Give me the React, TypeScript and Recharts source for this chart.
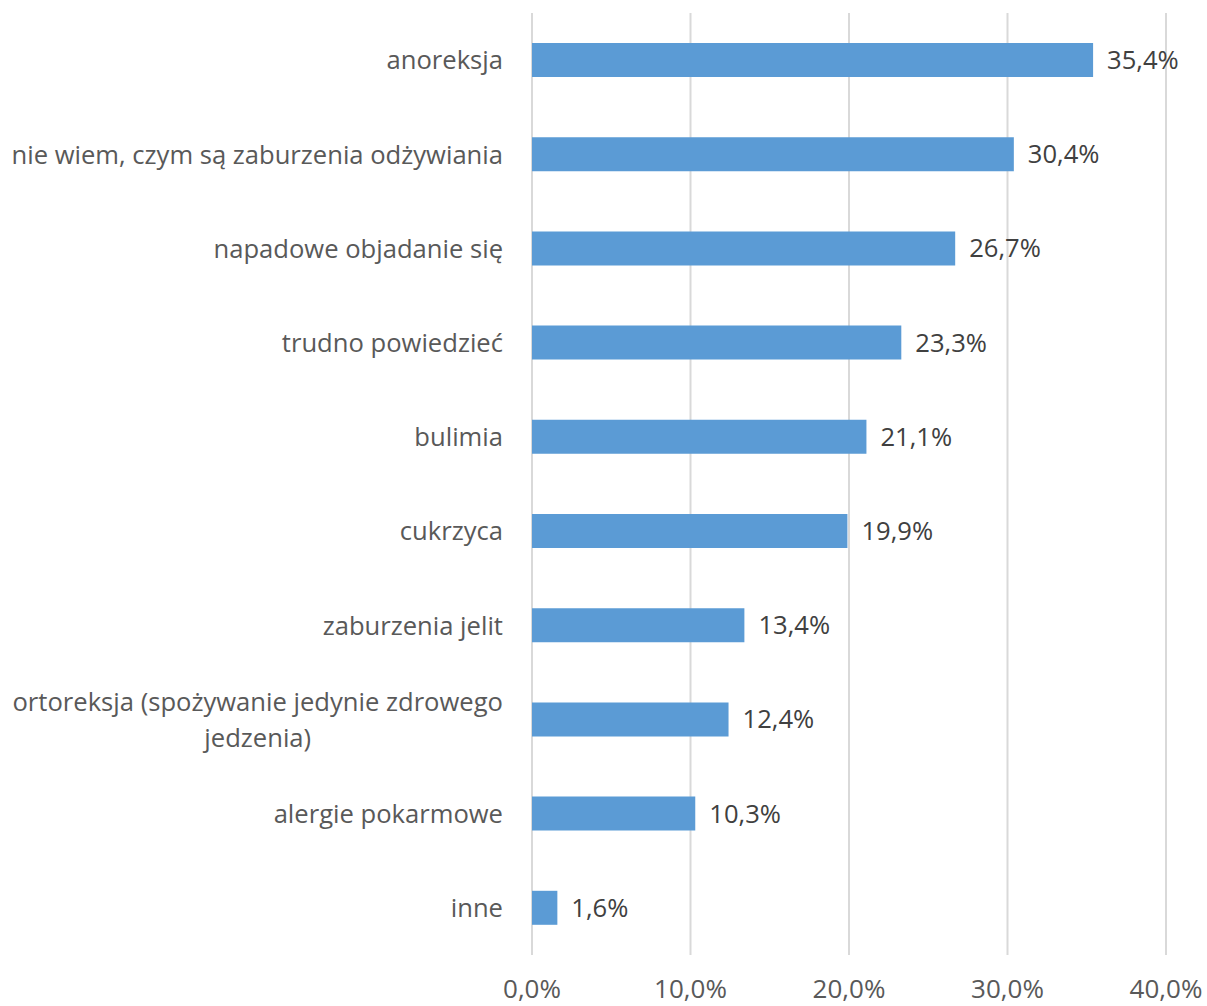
import React from 'react';
import { BarChart, Bar, XAxis, YAxis, CartesianGrid, LabelList } from 'recharts';

const categories: string[] = [
  'anoreksja',
  'nie wiem, czym są zaburzenia odżywiania',
  'napadowe objadanie się',
  'trudno powiedzieć',
  'bulimia',
  'cukrzyca',
  'zaburzenia jelit',
  'ortoreksja (spożywanie jedynie zdrowego\njedzenia)',
  'alergie pokarmowe',
  'inne',
];
const values: number[] = [35.4, 30.4, 26.7, 23.3, 21.1, 19.9, 13.4, 12.4, 10.3, 1.6];
const xTicks: number[] = [0, 10, 20, 30, 40];

const data = categories.map((name, i) => ({ name, value: values[i] }));

const FONT = "'Open Sans', sans-serif";
const FS = 25.6;
const XFS = 26;
const fmt = (v: number) => v.toFixed(1).replace('.', ',') + '%';

let ctx: CanvasRenderingContext2D | null = null;
const measure = (s: string) => {
  if (!ctx) {
    const c = document.createElement('canvas');
    ctx = c.getContext('2d');
  }
  if (!ctx) return s.length * FS * 0.5;
  ctx.font = `${FS}px 'Open Sans'`;
  return ctx.measureText(s).width;
};

const YTick = (props: any) => {
  const { x, y, payload } = props;
  const lines: string[] = String(payload.value).split('\n');
  if (lines.length === 1) {
    return (
      <text x={x} y={y} dy="0.36em" textAnchor="end" fill="#595959" fontSize={FS} fontFamily={FONT}>
        {lines[0]}
      </text>
    );
  }
  const w = measure(lines[0]);
  const cx = x - w / 2;
  const lh = 36;
  const start = y - ((lines.length - 1) * lh) / 2;
  return (
    <g>
      {lines.map((l, i) => (
        <text key={i} x={i === 0 ? x : cx} y={start + i * lh} dy="0.36em" textAnchor={i === 0 ? 'end' : 'middle'} fill="#595959" fontSize={FS} fontFamily={FONT}>
          {l}
        </text>
      ))}
    </g>
  );
};

const XTick = (props: any) => {
  const { x, y, payload } = props;
  return (
    <text x={x} y={y + 43} textAnchor="middle" fill="#595959" fontSize={XFS} fontFamily={FONT}>
      {fmt(payload.value)}
    </text>
  );
};

export default function App() {
  return (
    <div style={{ position: 'absolute', left: 0, top: 0, width: 1207, height: 1006, background: '#fff' }}>
      <BarChart
        width={1207}
        height={1006}
        data={data}
        layout="vertical"
        margin={{ top: 13, right: 41, left: 0, bottom: 0 }}
      >
        <CartesianGrid horizontal={false} stroke="#d9d9d9" strokeWidth={2} />
        <XAxis
          type="number"
          domain={[0, 40]}
          ticks={xTicks}
          axisLine={false}
          tickLine={false}
          tickSize={0}
          tickMargin={0}
          height={51}
          tick={<XTick />}
          interval={0}
        />
        <YAxis
          type="category"
          dataKey="name"
          width={532}
          axisLine={false}
          tickLine={false}
          tickSize={0}
          tickMargin={29}
          tick={<YTick />}
          interval={0}
        />
        <Bar dataKey="value" fill="#5b9bd5" barSize={34} isAnimationActive={false}>
          <LabelList
            dataKey="value"
            position="right"
            offset={14}
            formatter={(v: any) => fmt(Number(v))}
            fill="#404040"
            fontSize={FS}
            fontFamily={FONT}
          />
        </Bar>
      </BarChart>
    </div>
  );
}
